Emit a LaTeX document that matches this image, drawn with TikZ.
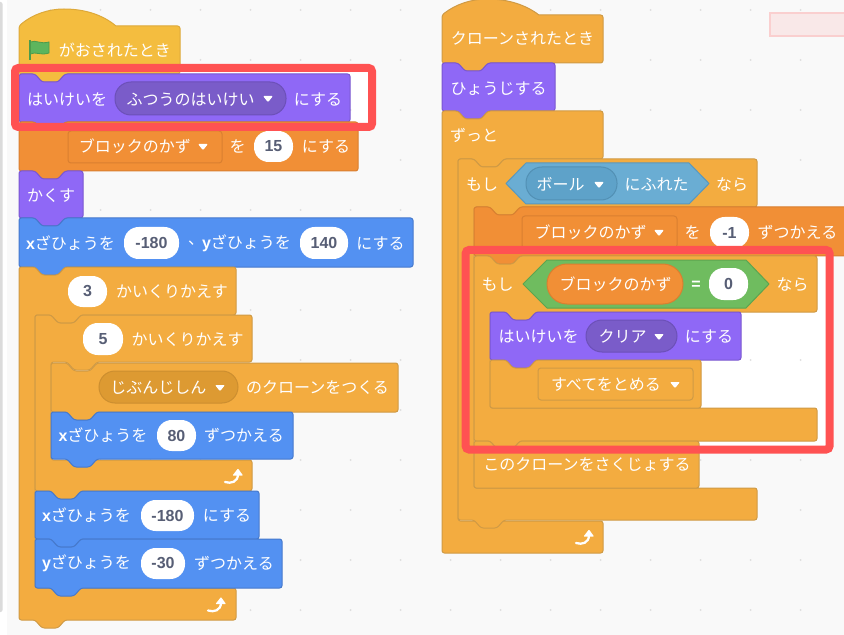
\documentclass[tikz,border=0pt]{standalone}
\usepackage{fontspec}
\setmainfont{Noto Sans CJK JP}
\newfontfamily\numfont{Liberation Sans}
\definecolor{bgc}{HTML}{F9F9F9}
\definecolor{evc}{HTML}{F4BD3F}\definecolor{evl}{HTML}{DDA93A}
\definecolor{ctc}{HTML}{F3AC40}\definecolor{ctl}{HTML}{CF9A45}
\definecolor{loc}{HTML}{8F68F6}\definecolor{lol}{HTML}{7A57D0}
\definecolor{lod}{HTML}{7A5CC9}\definecolor{lodl}{HTML}{6C50B8}
\definecolor{vac}{HTML}{F18F36}\definecolor{val}{HTML}{D97F30}
\definecolor{moc}{HTML}{5391F2}\definecolor{mol}{HTML}{4679CC}
\definecolor{ctd}{HTML}{DD9A32}\definecolor{ctdl}{HTML}{CC8E30}
\definecolor{sec}{HTML}{6AADD3}\definecolor{sel}{HTML}{5A98BC}
\definecolor{sed}{HTML}{5EA2C9}\definecolor{sedl}{HTML}{5290B4}
\definecolor{opc}{HTML}{6FBC5F}\definecolor{opl}{HTML}{5DA44F}
\definecolor{numc}{HTML}{575E75}\definecolor{redc}{HTML}{FF5252}
\definecolor{flagc}{HTML}{5DB55D}\definecolor{flagl}{HTML}{4C9C4C}
\newcounter{txt}
\tikzset{
  blk/.style n args={2}{fill=#1,draw=#2,line width=0.75pt,rounded corners=1.8pt,line join=round},
  lab/.style={text=white,font=\fontsize{12}{14}\selectfont,inner sep=0pt,anchor=center,yshift=-0.4pt},
  numlab/.style={text=numc,font=\fontsize{12}{14}\selectfont\numfont\bfseries,inner sep=0pt,anchor=center},
  griddot/.style={fill=black!13,draw=none}
}
% #1 x1 #2 y1 #3 x2 #4 y2 #5 fill #6 line : stacked block with notch and bump
\newcommand\StackBlk[6]{\draw[blk={#5}{#6}] (#1,{#2+10}) -- (#1,#2) -- ({#1+16},#2) -- ({#1+23},{#2+8}) -- ({#1+39},{#2+8}) -- ({#1+46},#2) -- (#3,#2) -- (#3,#4) -- ({#1+46},#4) -- ({#1+39},{#4+8}) -- ({#1+23},{#4+8}) -- ({#1+16},#4) -- (#1,#4) -- cycle;}
% cap block: notch, no bump
\newcommand\CapBlk[6]{\draw[blk={#5}{#6}] (#1,{#2+10}) -- (#1,#2) -- ({#1+16},#2) -- ({#1+23},{#2+8}) -- ({#1+39},{#2+8}) -- ({#1+46},#2) -- (#3,#2) -- (#3,#4) -- (#1,#4) -- cycle;}
% hat block: #1 x1 #2 y1 #3 x2 #4 y2 #5 fill #6 line #7 dome top y
\newcommand\HatBlk[7]{\draw[blk={#5}{#6}] (#1,{#2+10}) -- (#1,#2) [sharp corners] .. controls ({#1+14},{#7+5}) and ({#1+30},#7) .. ({#1+45},#7) .. controls ({#1+66},#7) and ({#1+84},{#7+6}) .. ({#1+97},#2) [rounded corners=1.8pt] -- (#3,#2) -- (#3,#4) -- ({#1+46},#4) -- ({#1+39},{#4+8}) -- ({#1+23},{#4+8}) -- ({#1+16},#4) -- (#1,#4) -- cycle;}
% C block: #1 x1 #2 y1 #3 x2 #4 head bottom #5 bar top #6 y2 #7 fill #8 line ; #9 bar right x
\newcommand\LoopBlk[9]{\draw[blk={#7}{#8}] (#1,{#2+10}) -- (#1,#2) -- ({#1+16},#2) -- ({#1+23},{#2+8}) -- ({#1+39},{#2+8}) -- ({#1+46},#2) -- (#3,#2) -- (#3,#4) -- ({#1+62},#4) -- ({#1+55},{#4+8}) -- ({#1+39},{#4+8}) -- ({#1+32},#4) -- ({#1+16},#4) -- ({#1+16},#5) -- (#9,#5) -- (#9,#6) -- ({#1+46},#6) -- ({#1+39},{#6+8}) -- ({#1+23},{#6+8}) -- ({#1+16},#6) -- (#1,#6) -- cycle;}
% text centred between x1 and x2
\newcommand\Lab[4]{\stepcounter{txt}\node[lab] (t\thetxt) at ({(#1+#2)/2},#3) {#4};}
\newcommand\Num[3]{\stepcounter{txt}\node[numlab] (t\thetxt) at (#1,#2) {#3};}
% oval: x1 x2 y1 y2 fill line radius
\newcommand\Oval[7]{\draw[fill=#5,draw=#6,line width=0.75pt,rounded corners=#7pt] (#1,#3) rectangle (#2,#4);}
\newcommand\WOval[5]{\draw[fill=white,draw=none,rounded corners=11pt] (#1,#3) rectangle (#2,#4); \Num{{(#1+#2)/2}}{{(#3+#4)/2}}{#5}}
\newcommand\SqBox[6]{\draw[fill=#5,draw=#6,line width=0.75pt,rounded corners=2.2pt] (#1,#3) rectangle (#2,#4);}
% dropdown triangle, centre x, y
\newcommand\Tri[2]{\fill[white,rounded corners=0.8pt] ({#1-5},{#2-3}) -- ({#1+5},{#2-3}) -- (#1,{#2+3.2}) -- cycle;}
% repeat arrow, anchored at its lower left x,y
\newcommand\RepArrow[2]{%
 \draw[white,line width=1.7pt,line cap=round] (#1,#2) .. controls ({#1+6},{#2+2}) and ({#1+13},{#2}) .. ({#1+13},{#2-8});
 \fill[white,rounded corners=0.5pt] ({#1+7.5},{#2-6.5}) -- ({#1+13},{#2-13.5}) -- ({#1+18},{#2-6.5}) -- cycle;}
\begin{document}
\begin{tikzpicture}[x=0.75pt,y=-0.75pt]
\useasboundingbox (0,0) rectangle (844,635);
\clip (0,0) rectangle (844,635);
\fill[white] (0,0) rectangle (844,635);
\fill[bgc] (7,0) rectangle (844,635);
\fill[black!14,rounded corners=1.5pt] (-4,2) rectangle (2.5,612);
% white inside the red frames
\fill[white] (19,72) rectangle (368,123);
\fill[white] (470,254) rectangle (826,446);
% grid dots
\foreach \gx in {50,100,...,800}
  \foreach \gy in {10,60,...,610}
    \fill[griddot] (\gx+0.5,\gy) circle (1);
% pink rectangle
\draw[fill=red!7!bgc,draw=red!17!bgc,line width=1.4pt] (770,13) rectangle (850,36);

% ---------- left stack ----------
\HatBlk{19}{26}{180}{74}{evc}{evl}{9}
\draw[line width=1.2pt,draw=flagl] (30,40) -- (30,60);
\draw[fill=flagc,draw=flagl,line width=0.6pt] (30.5,42) .. controls (36,39.5) and (40,44.5) .. (49,42) -- (49,53) .. controls (40,56) and (36,51) .. (30.5,54) -- cycle;
\Lab{60}{170}{50}{がおされたとき}

\StackBlk{19}{74}{350}{122}{loc}{lol}
\Lab{28}{106}{99}{はいけいを}
\Oval{115}{286}{82}{115}{lod}{lodl}{12}
\Lab{127}{254}{99}{ふつうのはいけい}
\Tri{268}{99}
\Lab{295}{341}{99}{にする}

\StackBlk{19}{122}{358}{171}{vac}{val}
\SqBox{68}{222}{131}{163}{vac}{val}
\Lab{79}{191}{146}{ブロックのかず}
\Tri{203}{147}
\Lab{231}{244}{146}{を}
\WOval{254}{293}{131}{162}{15}
\Lab{303}{349}{146}{にする}

\StackBlk{19}{171}{83}{218}{loc}{lol}
\Lab{28}{74}{195}{かくす}

\StackBlk{19}{218}{413}{267}{moc}{mol}
\Lab{27}{114}{243}{{\numfont\bfseries x}ざひょうを}
\WOval{124}{179}{227}{259}{-180}
\Lab{191}{201}{243}{、}
\Lab{203}{290}{243}{{\numfont\bfseries y}ざひょうを}
\WOval{300}{348}{227}{259}{140}
\Lab{358}{403}{243}{にする}

\LoopBlk{19}{267}{236}{315}{588}{620}{ctc}{ctl}{236}
\WOval{68}{107}{276}{307}{3}
\Lab{117}{227}{291}{かいくりかえす}
\RepArrow{208}{610.5}

\LoopBlk{35}{315}{252}{362}{460}{491}{ctc}{ctl}{252}
\WOval{83}{123}{323}{355}{5}
\Lab{132}{243}{339}{かいくりかえす}
\RepArrow{225}{482}

\StackBlk{51}{363}{398}{412}{ctc}{ctl}
\Oval{99}{238}{371}{403}{ctd}{ctdl}{12}
\Lab{112}{205}{387}{じぶんじしん}
\Tri{220}{388}
\Lab{246}{389}{387}{のクローンをつくる}

\StackBlk{51}{412}{293}{459}{moc}{mol}
\Lab{59}{147}{435}{{\numfont\bfseries x}ざひょうを}
\WOval{157}{196}{420}{451}{80}
\Lab{205}{283}{435}{ずつかえる}

\StackBlk{35}{491}{259}{539}{moc}{mol}
\Lab{43}{130}{515}{{\numfont\bfseries x}ざひょうを}
\WOval{141}{194}{500}{531}{-180}
\Lab{204}{250}{515}{にする}

\StackBlk{35}{539}{282}{588}{moc}{mol}
\Lab{43}{130}{563}{{\numfont\bfseries y}ざひょうを}
\WOval{141}{185}{548}{579}{-30}
\Lab{195}{273}{563}{ずつかえる}

% ---------- right stack ----------
\HatBlk{442}{15}{603}{63}{ctc}{ctl}{-1}
\Lab{451}{594}{38}{クローンされたとき}

\StackBlk{442}{63}{555}{111}{loc}{lol}
\Lab{451}{546}{88}{ひょうじする}

% forever: flat top
\draw[blk={ctc}{ctl}] (442,121) -- (442,111) -- (458,111) -- (465,119) -- (481,119) -- (488,111) -- (603,111) -- (603,159) -- (504,159) -- (497,167) -- (481,167) -- (474,159) -- (458,159) -- (458,521) -- (603,521) -- (603,553) -- (442,553) -- cycle;
\Lab{451}{497}{135}{ずっと}
\RepArrow{576}{543}

\LoopBlk{458}{159}{757}{207}{488}{520}{ctc}{ctl}{757}
\Lab{467}{497}{184}{もし}
\draw[fill=sec,draw=sel,line width=0.75pt,line join=round] (506,183.5) -- (526,163) -- (689,163) -- (709,183.5) -- (689,204) -- (526,204) -- cycle;
\Oval{526}{617}{167}{200}{sed}{sedl}{12}
\Lab{537}{584}{184}{ボール}
\Tri{599}{185}
\Lab{626}{687}{184}{にふれた}
\Lab{717}{747}{184}{なら}

\StackBlk{474}{207}{850}{256}{vac}{val}
\SqBox{522}{677}{216}{248}{vac}{val}
\Lab{535}{646}{232}{ブロックのかず}
\Tri{659}{233}
\Lab{686}{699}{232}{を}
\WOval{710}{749}{217}{248}{-1}
\Lab{758}{837}{232}{ずつかえる}

\LoopBlk{474}{256}{817}{312}{408}{441}{ctc}{ctl}{817}
\Lab{483}{512}{284}{もし}
\draw[fill=opc,draw=opl,line width=0.75pt,line join=round] (523,284) -- (547,260) -- (746,260) -- (769,284) -- (746,308) -- (547,308) -- cycle;
\Oval{547}{683}{264}{304}{vac}{val}{15}
\Lab{560}{671}{284}{ブロックのかず}
\Lab{690}{702}{285}{{\numfont\bfseries =}}
\WOval{709}{748}{268}{300}{0}
\Lab{778}{807}{284}{なら}

\StackBlk{490}{312}{741}{360}{loc}{lol}
\Lab{500}{577}{336}{はいけいを}
\Oval{586}{677}{320}{352}{lod}{lodl}{12}
\Lab{599}{646}{336}{クリア}
\Tri{659}{337}
\Lab{686}{732}{336}{にする}

\CapBlk{490}{360}{701}{408}{ctc}{ctl}
\SqBox{538}{693}{368}{400}{ctc}{ctl}
\Lab{551}{661}{384}{すべてをとめる}
\Tri{675}{385}

\CapBlk{474}{441}{699}{488}{ctc}{ctl}
\Lab{484}{690}{464}{このクローンをさくじょする}

% ---------- red frames ----------
\draw[draw=redc,line width=6pt,rounded corners=2.5pt] (15,68) rectangle (372,127);
\draw[draw=redc,line width=6pt,rounded corners=2.5pt] (465.7,250) rectangle (829.5,449.5);
\end{tikzpicture}
\end{document}
